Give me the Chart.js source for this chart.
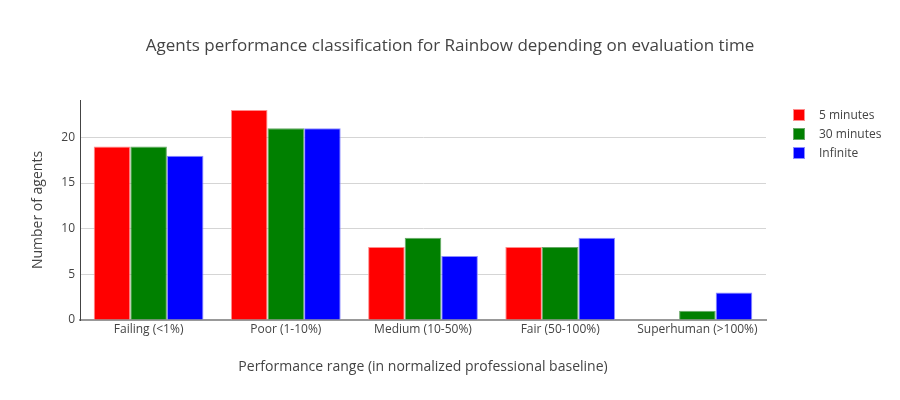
<!DOCTYPE html>
<html>
<head>
<meta charset="utf-8">
<script src="https://cdn.jsdelivr.net/npm/chart.js@4/dist/chart.umd.min.js"></script>
<style>
  html, body { margin: 0; padding: 0; background: #fff; }
  #wrap { position: relative; width: 900px; height: 400px; font-family: "Open Sans", sans-serif; color: #444; }
  #title { position: absolute; left: 0; width: 900px; top: 33px; text-align: center; font-size: 17px; line-height: 24px; }
  #legend { position: absolute; left: 793px; top: 105px; font-size: 12px; }
  #legend .item { height: 19px; display: flex; align-items: center; }
  #legend .sw { width: 12px; height: 12px; margin-right: 14px; box-sizing: border-box; border-width: 1px; border-style: solid; }
</style>
</head>
<body>
<div id="wrap">
  <canvas id="bar-chart" width="900" height="400"></canvas>
  <div id="title">Agents performance classification for Rainbow depending on evaluation time</div>
  <div id="legend"></div>
</div>
<script>
  const categories = ["Failing (<1%)", "Poor (1-10%)", "Medium (10-50%)", "Fair (50-100%)", "Superhuman (>100%)"];
  const seriesNames = ["5 minutes", "30 minutes", "Infinite"];
  const fiveMinutes = [19, 23, 8, 8, 0];
  const thirtyMinutes = [19, 21, 9, 8, 1];
  const infinite = [18, 21, 7, 9, 3];
  const yTicks = [0, 5, 10, 15, 20];
  const colors = ["#ff0000", "#008000", "#0000ff"];
  const edgeColors = ["#ff8c8c", "#66a866", "#8c8cff"];

  const ctx = document.getElementById("bar-chart").getContext("2d");
  const series = [fiveMinutes, thirtyMinutes, infinite];

  new Chart(ctx, {
    type: "bar",
    data: {
      labels: categories,
      datasets: series.map((vals, i) => ({
        label: seriesNames[i],
        data: vals,
        backgroundColor: colors[i],
        borderColor: edgeColors[i],
        borderWidth: 1,
        categoryPercentage: 0.8,
        barPercentage: 1.0
      }))
    },
    options: {
      responsive: false,
      animation: false,
      layout: { padding: { left: 0, top: 100, right: 134, bottom: 0 } },
      plugins: {
        legend: { display: false },
        tooltip: { enabled: false }
      },
      scales: {
        x: {
          afterFit: (scale) => { scale.height = 80; },
          grid: { display: false, drawTicks: false },
          border: { display: true, color: "#999", width: 2 },
          ticks: { color: "#444", font: { family: "Open Sans", size: 12 }, padding: 2, maxRotation: 0 },
          title: {
            display: true,
            text: "Performance range (in normalized professional baseline)",
            color: "#444",
            font: { family: "Open Sans", size: 14 },
            padding: { top: 0, bottom: 24.6 }
          }
        },
        y: {
          min: 0,
          max: 24.1,
          afterFit: (scale) => { scale.width = 80; },
          afterBuildTicks: (scale) => { scale.ticks = yTicks.map(v => ({ value: v })); },
          grid: { color: "#d5d5d5", drawTicks: false, lineWidth: 1 },
          border: { display: true, color: "#444", width: 1 },
          ticks: { color: "#444", font: { family: "Open Sans", size: 12 }, padding: 5, includeBounds: false },
          title: {
            display: true,
            text: "Number of agents",
            color: "#444",
            font: { family: "Open Sans", size: 14 },
            padding: { top: 29.6, bottom: 0 }
          }
        }
      }
    }
  });

  const legend = document.getElementById("legend");
  seriesNames.forEach((name, i) => {
    const row = document.createElement("div");
    row.className = "item";
    const sw = document.createElement("span");
    sw.className = "sw";
    sw.style.background = colors[i];
    sw.style.borderColor = edgeColors[i];
    const txt = document.createElement("span");
    txt.textContent = name;
    row.appendChild(sw);
    row.appendChild(txt);
    legend.appendChild(row);
  });
</script>
</body>
</html>
